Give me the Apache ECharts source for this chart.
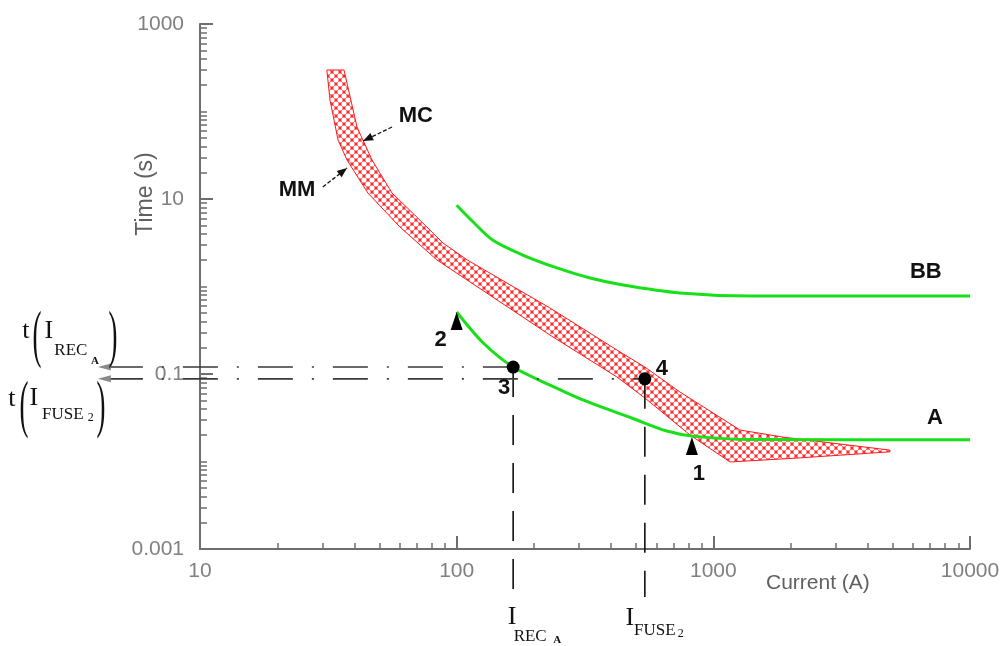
<!DOCTYPE html>
<html><head><meta charset="utf-8">
<script src="https://cdn.jsdelivr.net/npm/echarts@6/dist/echarts.min.js"></script>
<style>html,body{margin:0;padding:0;background:#fff}#c{width:1003px;height:646px}</style>
</head><body><div id="c"></div>
<script>
// ---------------- data (real units: current in A, time in s) ----------------
const xTickLabels = ['10', '100', '1000', '10000'];
const yTickLabels = ['0.001', '0.1', '10', '1000'];

const curveA_current = [100, 127, 166, 231, 310, 486, 659, 833, 1390, 10000];
const curveA_time    = [0.511, 0.226, 0.120, 0.0748, 0.0505, 0.031, 0.0223, 0.0195, 0.0178, 0.0177];

const curveBB_current = [100, 116, 138, 181, 246, 331, 445, 741, 1390, 10000];
const curveBB_time    = [8.5, 5.46, 3.40, 2.29, 1.63, 1.25, 1.04, 0.843, 0.778, 0.778];

// fuse band: minimum melt (lower-left edge) and maximum clearing (upper-right edge)
const mm_current = [31.2, 32.1, 34.5, 37.4, 45.1, 60.1, 83.8, 230.7, 421, 541, 811, 1162, 2173, 4876];
const mm_time    = [298, 135, 47.2, 27.9, 11.7, 4.79, 2.01, 0.279, 0.0925, 0.0532, 0.0201, 0.00987, 0.011, 0.0129];
const mc_current = [36.4, 40.9, 46.8, 56.0, 70.0, 88.5, 110, 231, 421, 541, 741, 1270, 1867, 4876];
const mc_time    = [298, 66.5, 27.9, 11.7, 6.2, 3.14, 2.01, 0.568, 0.188, 0.120, 0.0623, 0.0229, 0.019, 0.0135];

// numbered points
const pointLabels  = ['1', '2', '3', '4'];
const pointSymbols = ['triangle', 'triangle', 'circle', 'circle'];
const point_current = [825, 100, 166, 541];
const point_time    = [0.019, 0.511, 0.120, 0.088];

// coordination guides
const I_REC = 166, T_REC = 0.120;
const I_FUSE = 541, T_FUSE = 0.088;
const guideArrowCurrent = 4.0;          // where the horizontal guides end (left of axis)
const guideBottom_time = [0.000349, 0.000283]; // lower ends of the vertical guides

// ---------------- helpers ----------------
const L = Math.log10;
const pair = (I, t) => [L(I), L(t)];
const xMajor = xTickLabels.map(s => L(+s));
const yMajor = yTickLabels.map(s => L(+s));
const xMinor = []; for (let d = 1; d < 4; d++) for (let k = 2; k <= 9; k++) xMinor.push(L(k) + d);
const yMinor = []; for (let d = -3; d < 3; d++) for (let k = 1; k <= 9; k++) { const v = L(k) + d; if (!yMajor.some(m => Math.abs(m - v) < 1e-9)) yMinor.push(v); }
const fmt = (arr, labels) => v => { const i = arr.findIndex(m => Math.abs(m - v) < 1e-6); return i >= 0 ? labels[i] : ''; };

const SANS = 'Liberation Sans, Arial, sans-serif';
const SERIF = 'Liberation Serif, Times New Roman, serif';
const axisColor = '#6e6e6e';
const green = '#18e018';

const pattern = (() => {
  const c = document.createElement('canvas'); c.width = 8; c.height = 8;
  const g = c.getContext('2d');
  g.fillStyle = '#ff2a2a'; g.fillRect(0, 0, 8, 8);
  g.fillStyle = '#ffffff';
  [[0,0],[8,0],[0,8],[8,8],[4,4]].forEach(([x,y]) => { g.beginPath(); g.arc(x, y, 2.6, 0, Math.PI*2); g.fill(); });
  return c;
})();

const bandPoly = mm_current.map((I, i) => pair(I, mm_time[i]))
  .concat(mc_current.map((I, i) => pair(I, mc_time[i])).reverse());

// annotations anchored in data space, parts offset in px
const notes = [
  { at: [69.3, 89], parts: [{ t: 'MC', dx: 0, dy: 0, s: 22, w: 'bold' }] },
  { at: [23.9, 12.7], parts: [{ t: 'MM', dx: 0, dy: 0, s: 22, w: 'bold' }] },
  { at: [6730, 1.47], parts: [{ t: 'BB', dx: 0, dy: 0, s: 22, w: 'bold' }] },
  { at: [7300, 0.0314], parts: [{ t: 'A', dx: 0, dy: 0, s: 22, w: 'bold' }] },
  { at: [6.16, 11.4], parts: [{ t: 'Time (s)', dx: 0, dy: 0, s: 23, rot: Math.PI/2, c: '#606060' }] },
  { at: [2556, 0.000408], parts: [{ t: 'Current (A)', dx: 0, dy: 0, s: 21, c: '#606060' }] },
  { at: [guideArrowCurrent, T_REC], parts: [
      { t: 't', dx: -72, dy: -36, s: 26, f: SERIF },
      { t: '(', dx: -61, dy: -29, s: 64, f: SERIF, sx: 0.42 },
      { t: 'I', dx: -49, dy: -36, s: 26, f: SERIF },
      { t: 'REC', dx: -27, dy: -17, s: 17, f: SERIF },
      { t: 'A', dx: -3, dy: -6, s: 11, f: SERIF, w: 'bold' },
      { t: ')', dx: 15, dy: -29, s: 64, f: SERIF, sx: 0.42 } ] },
  { at: [guideArrowCurrent, T_FUSE], parts: [
      { t: 't', dx: -86, dy: 20, s: 26, f: SERIF },
      { t: '(', dx: -74, dy: 29, s: 64, f: SERIF, sx: 0.42 },
      { t: 'I', dx: -64, dy: 19, s: 26, f: SERIF },
      { t: 'FUSE', dx: -35, dy: 36, s: 17, f: SERIF },
      { t: '2', dx: -7, dy: 39, s: 12, f: SERIF },
      { t: ')', dx: 3, dy: 29, s: 64, f: SERIF, sx: 0.42 } ] },
  { at: [I_REC, 0.001], parts: [
      { t: 'I', dx: -1, dy: 68, s: 26, f: SERIF },
      { t: 'REC', dx: 17, dy: 88, s: 17, f: SERIF },
      { t: 'A', dx: 44, dy: 91, s: 11, f: SERIF, w: 'bold' } ] },
  { at: [I_FUSE, 0.001], parts: [
      { t: 'I', dx: -15, dy: 69, s: 26, f: SERIF },
      { t: 'FUSE', dx: 10, dy: 82, s: 17, f: SERIF },
      { t: '2', dx: 36, dy: 85, s: 12, f: SERIF } ] }
];

// pointer arrows [tail current, tail time, head current, head time]
const pointers = [[56.0, 66.5, 43.2, 46.0], [30.1, 13.7, 37.4, 22.6]];

function arrowHead(tail, head, len, hw) {
  const a = Math.atan2(head[1] - tail[1], head[0] - tail[0]);
  const bx = head[0] - len * Math.cos(a), by = head[1] - len * Math.sin(a);
  return [head, [bx + hw * Math.sin(a), by - hw * Math.cos(a)], [bx - hw * Math.sin(a), by + hw * Math.cos(a)]];
}

const option = {
  animation: false,
  backgroundColor: '#fff',
  grid: { left: 200, top: 24, width: 770, height: 525, outerBoundsMode: 'none' },
  xAxis: [
    { type: 'value', min: 1, max: 4, position: 'bottom', splitLine: { show: false },
      axisLine: { show: true, onZero: false, lineStyle: { color: axisColor, width: 2 } },
      axisTick: { show: true, inside: true, length: 13, customValues: xMajor.slice(1), lineStyle: { color: axisColor, width: 2 } },
      axisLabel: { show: true, customValues: xMajor, formatter: fmt(xMajor, xTickLabels), color: '#808080', fontSize: 21, fontFamily: SANS, margin: 12 } },
    { type: 'value', min: 1, max: 4, position: 'bottom', splitLine: { show: false },
      axisLine: { show: false, onZero: false },
      axisTick: { show: true, inside: true, length: 6, customValues: xMinor, lineStyle: { color: axisColor, width: 1.5 } },
      axisLabel: { show: false } }
  ],
  yAxis: [
    { type: 'value', min: -3, max: 3, position: 'left', splitLine: { show: false },
      axisLine: { show: true, onZero: false, lineStyle: { color: axisColor, width: 2 } },
      axisTick: { show: true, inside: true, length: 13, customValues: yMajor, lineStyle: { color: axisColor, width: 2 } },
      axisLabel: { show: true, customValues: yMajor, formatter: fmt(yMajor, yTickLabels), color: '#808080', fontSize: 21, fontFamily: SANS, margin: 16 } },
    { type: 'value', min: -3, max: 3, position: 'left', splitLine: { show: false },
      axisLine: { show: false, onZero: false },
      axisTick: { show: true, inside: true, length: 7, customValues: yMinor, lineStyle: { color: axisColor, width: 1.5 } },
      axisLabel: { show: false } }
  ],
  series: [
    { name: 'MM-MC band', type: 'custom', clip: false, z: 2, data: [[1, 0]],
      renderItem: (p, api) => ({ type: 'polygon', shape: { points: bandPoly.map(q => api.coord(q)) },
        style: { fill: { image: pattern, repeat: 'repeat' }, stroke: '#ff1a1a', lineWidth: 1, lineJoin: 'round' } }) },
    { name: 'BB', type: 'line', z: 3, showSymbol: false, smooth: 0.3,
      data: curveBB_current.map((I, i) => pair(I, curveBB_time[i])),
      lineStyle: { color: green, width: 3 } },
    { name: 'A', type: 'line', z: 3, showSymbol: false, smooth: 0.3,
      data: curveA_current.map((I, i) => pair(I, curveA_time[i])),
      lineStyle: { color: green, width: 3 } },
    { name: 'guides', type: 'custom', clip: false, z: 4, data: [[1, 0]],
      renderItem: (p, api) => {
        const ch = [];
        [[I_REC, T_REC, guideBottom_time[0]], [I_FUSE, T_FUSE, guideBottom_time[1]]].forEach(([I, T, B]) => {
          const tip = api.coord(pair(guideArrowCurrent, T));
          const end = api.coord(pair(I, T));
          const bot = api.coord(pair(I, B));
          ch.push({ type: 'polyline', shape: { points: [[tip[0] + 10, tip[1]], end] },
            style: { stroke: '#3a3a3a', lineWidth: 1.6, lineDash: [35, 19, 2, 19], fill: null } });
          ch.push({ type: 'polygon', shape: { points: [tip, [tip[0] + 13, tip[1] - 3.5], [tip[0] + 13, tip[1] + 3.5]] },
            style: { fill: '#8a8a8a' } });
          ch.push({ type: 'polyline', shape: { points: [end, bot] },
            style: { stroke: '#111', lineWidth: 1.6, lineDash: [30, 18], fill: null } });
        });
        pointers.forEach(([ti, tt, hi, ht]) => {
          const tail = api.coord(pair(ti, tt)), head = api.coord(pair(hi, ht));
          ch.push({ type: 'polyline', shape: { points: [tail, head] }, style: { stroke: '#111', lineWidth: 1.3, lineDash: [4, 2], fill: null } });
          ch.push({ type: 'polygon', shape: { points: arrowHead(tail, head, 10, 4) }, style: { fill: '#111' } });
        });
        return { type: 'group', children: ch };
      } },
    { name: 'points', type: 'custom', clip: false, z: 5, data: [[1, 0]],
      renderItem: (p, api) => {
        const offs = [[7, 37], [-16, 28], [-9, 21], [17, -10]];
        const ch = [];
        point_current.forEach((I, i) => {
          const c = api.coord(pair(I, point_time[i]));
          if (pointSymbols[i] === 'triangle') {
            ch.push({ type: 'polygon', shape: { points: [[c[0], c[1]], [c[0] - 6, c[1] + 18], [c[0] + 6, c[1] + 18]] }, style: { fill: '#000' } });
          } else {
            ch.push({ type: 'circle', shape: { cx: c[0], cy: c[1], r: 6.5 }, style: { fill: '#000' } });
          }
          ch.push({ type: 'text', x: c[0] + offs[i][0], y: c[1] + offs[i][1],
            style: { text: pointLabels[i], fontSize: 22, fontWeight: 'bold', fontFamily: SANS, fill: '#111', align: 'center', verticalAlign: 'middle' } });
        });
        return { type: 'group', children: ch };
      } },
    { name: 'notes', type: 'custom', clip: false, z: 6, data: [[1, 0]],
      renderItem: (p, api) => {
        const ch = [];
        notes.forEach(n => {
          const c = api.coord(pair(n.at[0], n.at[1]));
          n.parts.forEach(q => {
            ch.push({ type: 'text', x: c[0] + q.dx, y: c[1] + q.dy, rotation: q.rot || 0, scaleX: q.sx || 1,
              style: { text: q.t, fontSize: q.s, fontWeight: q.w || 'normal', fontFamily: q.f || SANS,
                fill: q.c || '#111', align: 'center', verticalAlign: 'middle' } });
          });
        });
        return { type: 'group', children: ch };
      } }
  ]
};
const chart = echarts.init(document.getElementById('c'), null, { renderer: 'canvas' });
chart.setOption(option);
</script></body></html>
